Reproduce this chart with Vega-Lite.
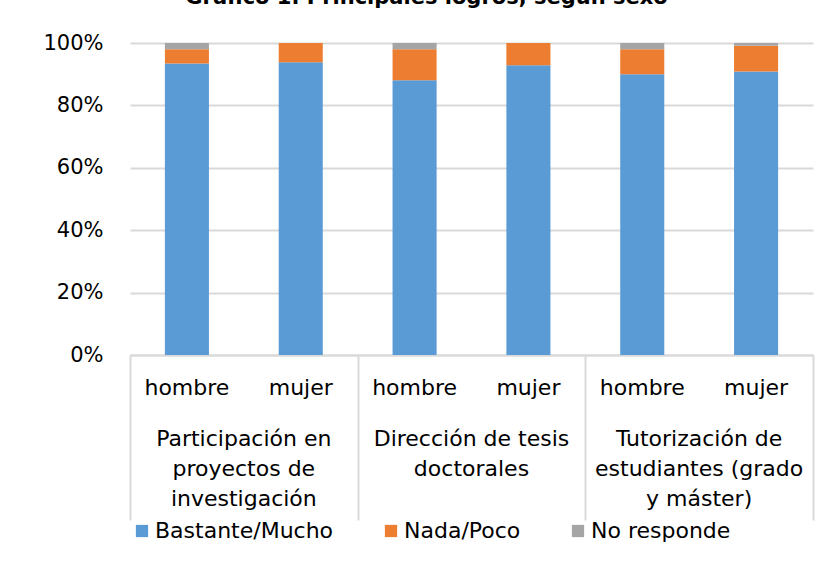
{
  "$schema": "https://vega.github.io/schema/vega-lite/v6.json",
  "width": 683,
  "height": 312,
  "autosize": {"type": "none"},
  "padding": {"left": 130, "top": 43, "right": 21, "bottom": 213},
  "background": "white",
  "title": {
    "text": "Gráfico 1. Principales logros, según sexo",
    "font": "DejaVu Sans",
    "fontSize": 21,
    "fontWeight": "bold",
    "color": "#000000",
    "anchor": "middle",
    "frame": "group",
    "dx": -45,
    "offset": 24
  },
  "config": {
    "font": "DejaVu Sans",
    "view": {"stroke": null},
    "axis": {"labelFont": "DejaVu Sans", "labelFontSize": 22, "labelColor": "#000000", "labelLimit": 500},
    "legend": {"labelFont": "DejaVu Sans", "labelFontSize": 22, "labelColor": "#000000", "labelLimit": 500}
  },
  "data": {
    "values": [
      {"barra": "Participación|hombre", "respuesta": "Bastante/Mucho", "valor": 93.4},
      {"barra": "Participación|hombre", "respuesta": "Nada/Poco", "valor": 4.6},
      {"barra": "Participación|hombre", "respuesta": "No responde", "valor": 2.0},
      {"barra": "Participación|mujer", "respuesta": "Bastante/Mucho", "valor": 93.8},
      {"barra": "Participación|mujer", "respuesta": "Nada/Poco", "valor": 6.2},
      {"barra": "Participación|mujer", "respuesta": "No responde", "valor": 0},
      {"barra": "Dirección|hombre", "respuesta": "Bastante/Mucho", "valor": 88.1},
      {"barra": "Dirección|hombre", "respuesta": "Nada/Poco", "valor": 9.9},
      {"barra": "Dirección|hombre", "respuesta": "No responde", "valor": 2.0},
      {"barra": "Dirección|mujer", "respuesta": "Bastante/Mucho", "valor": 92.9},
      {"barra": "Dirección|mujer", "respuesta": "Nada/Poco", "valor": 7.1},
      {"barra": "Dirección|mujer", "respuesta": "No responde", "valor": 0},
      {"barra": "Tutorización|hombre", "respuesta": "Bastante/Mucho", "valor": 90.0},
      {"barra": "Tutorización|hombre", "respuesta": "Nada/Poco", "valor": 8.0},
      {"barra": "Tutorización|hombre", "respuesta": "No responde", "valor": 2.0},
      {"barra": "Tutorización|mujer", "respuesta": "Bastante/Mucho", "valor": 90.9},
      {"barra": "Tutorización|mujer", "respuesta": "Nada/Poco", "valor": 8.2},
      {"barra": "Tutorización|mujer", "respuesta": "No responde", "valor": 0.9}
    ]
  },
  "resolve": {"scale": {"x": "independent"}, "axis": {"x": "independent"}},
  "layer": [
    {
      "mark": {"type": "bar"},
      "encoding": {
        "x": {
          "field": "barra",
          "type": "nominal",
          "sort": null,
          "scale": {"paddingInner": 0.613, "paddingOuter": 0.3065},
          "axis": {
            "title": null,
            "orient": "bottom",
            "labelAngle": 0,
            "labelExpr": "split(datum.label, '|')[1]",
            "labelPadding": 22,
            "ticks": false,
            "domain": true,
            "domainColor": "#D9D9D9",
            "domainWidth": 2,
            "grid": false,
            "labelOverlap": false
          }
        },
        "y": {
          "field": "valor",
          "type": "quantitative",
          "stack": "normalize",
          "scale": {"domain": [0, 1]},
          "axis": {
            "title": null,
            "values": [0, 0.2, 0.4, 0.6, 0.8, 1],
            "format": ".0%",
            "domain": false,
            "ticks": false,
            "grid": true,
            "gridColor": "#D9D9D9",
            "gridWidth": 2,
            "labelFontSize": 21,
            "labelPadding": 27
          }
        },
        "order": {"field": "respuesta", "sort": "ascending"},
        "color": {
          "field": "respuesta",
          "type": "nominal",
          "scale": {
            "domain": ["Bastante/Mucho", "Nada/Poco", "No responde"],
            "range": ["#5B9BD5", "#ED7D31", "#A5A5A5"]
          },
          "legend": {
            "title": null,
            "orient": "none",
            "legendX": 1,
            "legendY": 477,
            "direction": "horizontal",
            "symbolType": "square",
            "symbolSize": 150,
            "symbolStrokeWidth": 0,
            "labelOffset": 2,
            "columnPadding": 46
          }
        }
      }
    },
    {
      "mark": {"type": "bar", "opacity": 0},
      "encoding": {
        "x": {
          "field": "barra",
          "type": "nominal",
          "sort": null,
          "scale": {"paddingInner": 0, "paddingOuter": 0},
          "axis": {
            "title": null,
            "orient": "bottom",
            "labelAngle": 0,
            "labelExpr": "indexof(datum.label, '|hombre') < 0 ? '' : indexof(datum.label, 'Participación') == 0 ? ['Participación en', 'proyectos de', 'investigación'] : indexof(datum.label, 'Dirección') == 0 ? ['Dirección de tesis', 'doctorales'] : ['Tutorización de', 'estudiantes (grado', 'y máster)']",
            "labelOffset": 56.9,
            "labelPadding": 73,
            "labelLineHeight": 30,
            "labelBound": false,
            "labelFlush": false,
            "labelOverlap": false,
            "ticks": false,
            "domain": false,
            "grid": false
          }
        }
      }
    },
    {
      "mark": {"type": "bar", "opacity": 0},
      "encoding": {
        "x": {
          "field": "barra",
          "type": "nominal",
          "sort": null,
          "scale": {"paddingInner": 0, "paddingOuter": 0},
          "axis": {
            "title": null,
            "orient": "bottom",
            "labels": false,
            "domain": false,
            "grid": false,
            "ticks": true,
            "tickBand": "extent",
            "tickSize": 165,
            "tickColor": "#D9D9D9",
            "tickWidth": 2,
            "tickOpacity": {"condition": {"test": "datum.value && indexof(datum.value, '|hombre') > 0", "value": 0}, "value": 1}
          }
        }
      }
    }
  ]
}
